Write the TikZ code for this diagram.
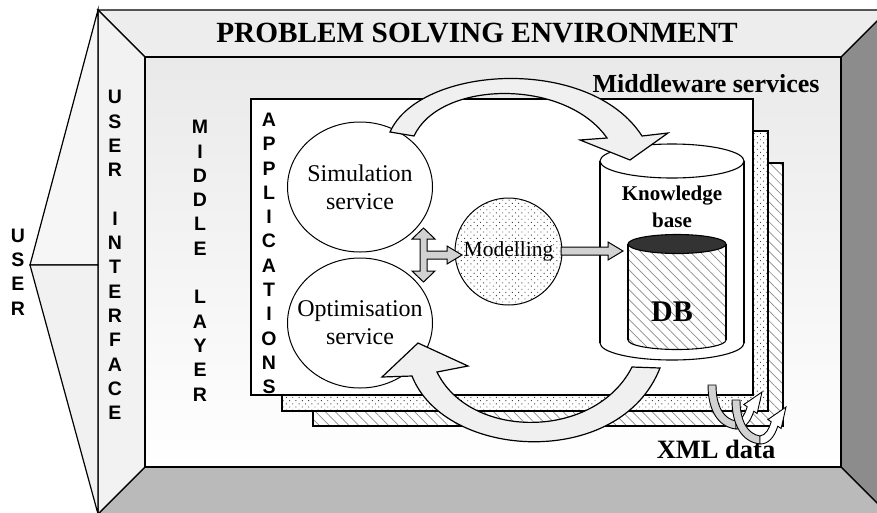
\documentclass[tikz,border=0pt]{standalone}
\usepackage{fontspec}
\setmainfont{Liberation Serif}
\newfontfamily\arialfont{Liberation Sans}
\usepackage{tikz}
\usetikzlibrary{arrows,%
                shapes,positioning,patterns.meta}

\definecolor{topwall}{gray}{0.93}
\definecolor{leftwall}{gray}{0.95}
\definecolor{rightwall}{gray}{0.55}
\definecolor{floorgray}{gray}{0.73}

\begin{document}
\begin{tikzpicture}[x=1pt,y=-1pt,
  wall/.style={draw,line width=1.2pt,line join=miter},
  layer/.style={draw,line width=1.1pt},
  letters/.style={font=\arialfont\bfseries\fontsize{19.5}{24.3}\selectfont,align=center,inner sep=0pt},
  service/.style={ellipse,draw,line width=1pt,fill=white,minimum width=145pt,minimum height=130pt,inner xsep=-14pt,inner ysep=0pt,align=center,font=\fontsize{24}{28}\selectfont},
  blockarrow/.style={draw,line width=1pt,fill=gray!35,line join=miter},
  bigarrow/.style={draw,line width=1.2pt,fill=gray!12,line join=miter},
  dotfill/.style={preaction={fill=white},pattern={Dots[distance=4.5pt,angle=45,radius=0.65pt]},pattern color=black!75},
  linefill/.style={preaction={fill=white},pattern={Lines[angle=-45,distance=7pt,line width=0.7pt]},pattern color=black!45}]
\clip (0,0) rectangle (877,512);
\useasboundingbox (0,0) rectangle (877,512);

\path[wall,fill=rightwall] (888,10) -- (841,57) -- (841,467) -- (888,514) -- cycle;
\path[wall,fill=floorgray] (145,467) -- (841,467) -- (888,514) -- (98,514) -- cycle;
\path[wall,fill=topwall] (98,10) -- (888,10) -- (841,57) -- (145,57) -- cycle;
\path[wall,fill=leftwall] (98,10) -- (145,57) -- (145,467) -- (98,514) -- cycle;
\shade[top color=gray!17,bottom color=white] (145,57) rectangle (841,467);
\draw[line width=1.2pt] (145,57) rectangle (841,467);
\path[wall,fill=gray!7] (98,10) -- (30,265) -- (98,265) -- cycle;
\path[wall,fill=gray!11] (30,265) -- (98,514) -- (98,265) -- cycle;

\node[inner sep=0pt,font=\bfseries\fontsize{29.3}{31}\selectfont] (title) at (477,33) {PROBLEM SOLVING ENVIRONMENT};
\node[inner sep=0pt,font=\bfseries\fontsize{26}{28}\selectfont] (mw) at (706,84) {Middleware services};

\path[layer,linefill] (313,163) rectangle (783,426);
\path[layer,dotfill] (282,131) rectangle (768,411);
\path[layer,fill=white] (251,99) rectangle (753,395);

\node[service] (sim) at (360,187) {Simulation\\service};
\node[service] (opt) at (360,323) {Optimisation\\service};
\node[circle,draw,line width=1pt,minimum size=107pt,inner sep=0pt,dotfill,font=\fontsize{21.5}{24}\selectfont] (model) at (508.5,251.5) {Modelling};

\draw[line width=1.1pt,fill=white] (672,343) ellipse[x radius=72,y radius=17];
\fill[white] (600,161) rectangle (744,343);
\draw[line width=1.1pt] (600,161) -- (600,343) (744,161) -- (744,343);
\draw[line width=1.1pt,fill=white] (672,161) ellipse[x radius=72,y radius=17];
\node[inner sep=0pt,align=center,font=\bfseries\fontsize{21}{27}\selectfont] (kb) at (672,207) {Knowledge\\base};

\path[draw,line width=1.1pt,linefill] (677,340) ellipse[x radius=49,y radius=9.5];
\fill[white] (628,244) rectangle (726,340);
\path[linefill] (628,244) rectangle (726,340);
\draw[line width=1.1pt] (628,244) -- (628,340) (726,244) -- (726,340);
\draw[line width=1.1pt,fill=black!80] (677,244) ellipse[x radius=49,y radius=9.5];
\node[inner sep=0pt,font=\bfseries\fontsize{30}{32}\selectfont] (db) at (672,312) {DB};

\path[blockarrow] (423.5,228) -- (435,239) -- (427,239) -- (427,251) -- (447,251) -- (447,246) -- (462,255) -- (447,264) -- (447,259) -- (427,259) -- (427,271) -- (435,271) -- (423.5,282) -- (412,271) -- (420,271) -- (420,239) -- (412,239) -- cycle;
\path[blockarrow] (561,247) -- (608,247) -- (608,242) -- (623,251) -- (608,260) -- (608,255) -- (561,255) -- cycle;

\path[bigarrow] (390,132) .. controls (420,65) and (590,55) .. (642,136) -- (668,133) -- (630,160) -- (580,140) -- (607,138) .. controls (565,78) and (440,80) .. (414,136) -- cycle;
\path[bigarrow] (418,343) -- (468,366) -- (437,372) .. controls (470,440) and (595,440) .. (632,367) -- (660,368) .. controls (620,470) and (445,460) .. (412,376) -- (382,377) -- cycle;

\foreach \dx/\dy in {708/385,732/400}{
  \begin{scope}[shift={(\dx,\dy)}]
    \path[draw,line width=0.9pt,fill=gray!35] (0,0) -- (8,0) .. controls (8,22) and (16,34) .. (28,36) -- (28,44) .. controls (10,42) and (0,25) .. (0,0) -- cycle;
    \path[draw,line width=0.9pt,fill=white,line join=miter] (28,36) .. controls (34,35) and (37,29) .. (39.2,21.8) -- (35.9,19.5) -- (54,7) -- (49.1,28.5) -- (45.8,26.2) .. controls (42,38) and (36,44) .. (28,44) -- cycle;
  \end{scope}
}
\node[inner sep=0pt,font=\bfseries\fontsize{26.5}{28}\selectfont] (xml) at (716,449) {XML data};

\node[letters] (user) at (18,272) {U\\S\\E\\R};
\node[letters] (ui) at (115,255) {U\\S\\E\\R\\\mbox{}\\I\\N\\T\\E\\R\\F\\A\\C\\E};
\node[letters] (ml) at (200,260.7) {M\\I\\D\\D\\L\\E\\\mbox{}\\L\\A\\Y\\E\\R};
\node[letters] (apps) at (269,253.5) {A\\P\\P\\L\\I\\C\\A\\T\\I\\O\\N\\S};
\end{tikzpicture}
\end{document}
